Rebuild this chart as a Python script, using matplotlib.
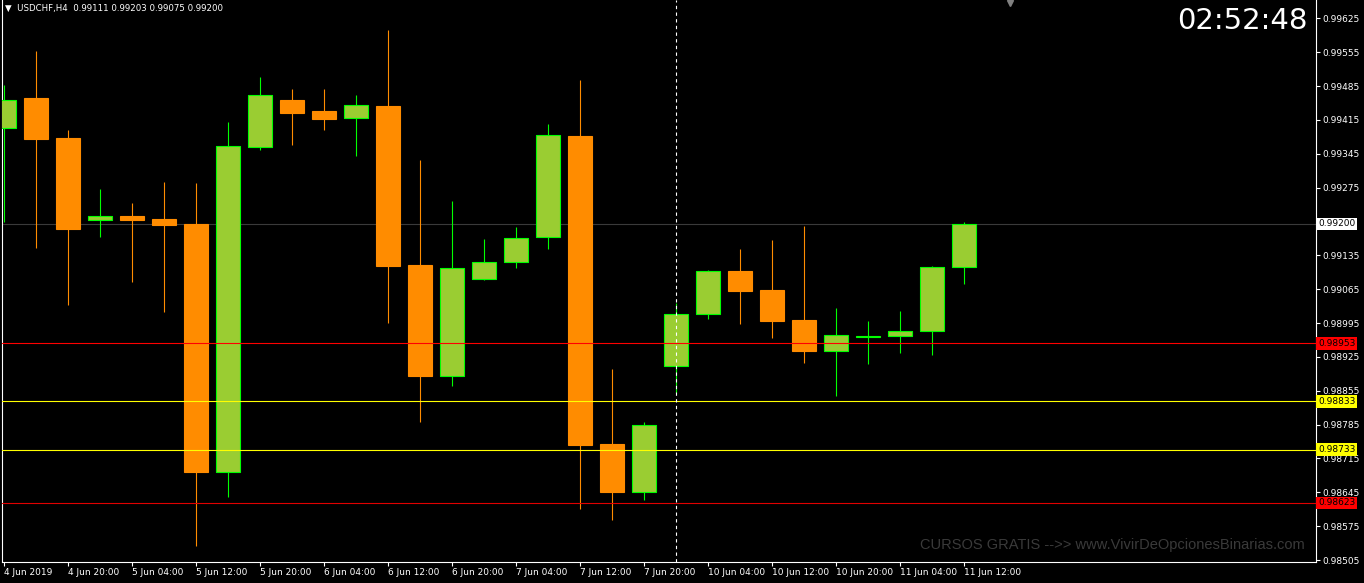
import matplotlib.pyplot as plt
import numpy as np

# USDCHF H4 candles, 4 Jun 12:00 -> 11 Jun 12:00
opens = [0.99399, 0.99461, 0.99377, 0.99209, 0.99216, 0.99210, 0.99200, 0.98687,
         0.99360, 0.99456, 0.99434, 0.99418, 0.99443, 0.99115, 0.98886, 0.99087,
         0.99122, 0.99172, 0.99382, 0.98745, 0.98646, 0.98907, 0.99014, 0.99103,
         0.99063, 0.99001, 0.98938, 0.98966, 0.98969, 0.98979, 0.99111]
highs = [0.99487, 0.99557, 0.99394, 0.99272, 0.99243, 0.99287, 0.99285, 0.99411,
         0.99503, 0.99479, 0.99479, 0.99466, 0.99601, 0.99332, 0.99247, 0.99169,
         0.99194, 0.99406, 0.99498, 0.98900, 0.98791, 0.99036, 0.99105, 0.99148,
         0.99167, 0.99196, 0.99026, 0.98999, 0.99020, 0.99113, 0.99203]
lows = [0.99204, 0.99150, 0.99032, 0.99173, 0.99080, 0.99018, 0.98534, 0.98636,
        0.99353, 0.99363, 0.99394, 0.99340, 0.98995, 0.98791, 0.98865, 0.99084,
        0.99109, 0.99148, 0.98611, 0.98588, 0.98630, 0.98851, 0.99004, 0.98994,
        0.98965, 0.98913, 0.98845, 0.98911, 0.98933, 0.98929, 0.99075]
closes = [0.99456, 0.99375, 0.99190, 0.99216, 0.99208, 0.99198, 0.98687, 0.99362,
          0.99466, 0.99429, 0.99417, 0.99446, 0.99113, 0.98885, 0.99109, 0.99121,
          0.99171, 0.99384, 0.98743, 0.98646, 0.98784, 0.99013, 0.99102, 0.99062,
          0.99000, 0.98938, 0.98970, 0.98969, 0.98978, 0.99110, 0.99200]

time_bars = [0, 2, 4, 6, 8, 10, 12, 14, 16, 18, 20, 22, 24, 26, 28, 30]
time_labels = ["4 Jun 2019", "4 Jun 20:00", "5 Jun 04:00", "5 Jun 12:00",
               "5 Jun 20:00", "6 Jun 04:00", "6 Jun 12:00", "6 Jun 20:00",
               "7 Jun 04:00", "7 Jun 12:00", "7 Jun 20:00", "10 Jun 04:00",
               "10 Jun 12:00", "10 Jun 20:00", "11 Jun 04:00", "11 Jun 12:00"]

price_ticks = [0.99625, 0.99555, 0.99485, 0.99415, 0.99345, 0.99275, 0.99205,
               0.99135, 0.99065, 0.98995, 0.98925, 0.98855, 0.98785, 0.98715,
               0.98645, 0.98575, 0.98505]
# 0.99205 sits under the bid price box
hidden_ticks = [0.99205]

levels = [0.99200, 0.98953, 0.98833, 0.98733, 0.98623]
level_colors = ["#3a3a3a", "#ff0000", "#ffff00", "#ffff00", "#e00000"]
label_colors = ["#ffffff", "#ff0000", "#ffff00", "#ffff00", "#ff0000"]

week_start_bar = 21

W, H = 1364, 583
fig = plt.figure(figsize=(W / 100, H / 100), dpi=100, facecolor="black")
ax = fig.add_axes([2 / W, (H - 562) / H, (1316 - 2) / W, 562 / H])
ax.set_facecolor("black")

o = np.array(opens)
c = np.array(closes)
x = np.arange(len(o))
up = c >= o
fills = np.where(up, "#9acd32", "#ff8c00")
edges = np.where(up, "#00ff00", "#ff8c00")

# wicks then bodies
ax.vlines(x, lows, highs, colors=edges, lw=0.8, zorder=2)
ax.bar(x, np.maximum(np.abs(c - o), 0.000015), bottom=np.minimum(o, c),
       width=0.78, color=fills, edgecolor=edges, linewidth=0.8, zorder=3)

# horizontal levels
for lv, lc in zip(levels, level_colors):
    ax.axhline(lv, color=lc, lw=0.8, zorder=1 if lc == "#3a3a3a" else 4)

# period separator
ax.axvline(week_start_bar, color="white", lw=0.8, ls=(0, (3, 3)), zorder=4)

ax.set_xlim(-0.0625, 41)
ax.set_ylim(0.98501, 0.99663)

ax.yaxis.tick_right()
ax.set_yticks(price_ticks)
ax.set_yticklabels(["" if t in hidden_ticks else "%.5f" % t for t in price_ticks])
ax.tick_params(axis="y", colors="white", length=3, width=0.8, labelsize=6.5, pad=1.5)

ax.set_xticks(time_bars)
ax.set_xticklabels(time_labels, ha="left")
ax.tick_params(axis="x", colors="white", length=3, width=0.8, labelsize=6.5, pad=1.5)

for side in ["left", "bottom", "right"]:
    ax.spines[side].set_color("white")
    ax.spines[side].set_linewidth(0.8)
ax.spines["top"].set_visible(False)

# price labels on right scale
for lv, bc in zip(levels, label_colors):
    ax.text(1.0015, lv, "%.5f" % lv, transform=ax.get_yaxis_transform(),
            fontsize=6.5, color="black", va="center", ha="left", zorder=6,
            clip_on=False,
            bbox=dict(boxstyle="square,pad=0.2", fc=bc, ec="none"))

# shift marker
ax.plot(0.767, 0.995, marker="v", color="#808080", ms=5,
        transform=ax.transAxes, clip_on=False)

fig.text(5 / W, 1 - 8 / H, "\u25bc  USDCHF,H4  0.99111 0.99203 0.99075 0.99200",
         color="white", fontsize=6.2, va="center", ha="left",
         bbox=dict(boxstyle="square,pad=0.1", fc="black", ec="none"))

fig.text(1308 / W, 1 - 21 / H, "02:52:48", color="white", fontsize=21,
         va="center", ha="right")

fig.text(1305 / W, 1 - 545.5 / H,
         "CURSOS GRATIS -->> www.VivirDeOpcionesBinarias.com",
         family="Liberation Sans", fontsize=10.5, color="#3a3a3a",
         va="center", ha="right")

fig.savefig("out.png", dpi=100, facecolor="black")
